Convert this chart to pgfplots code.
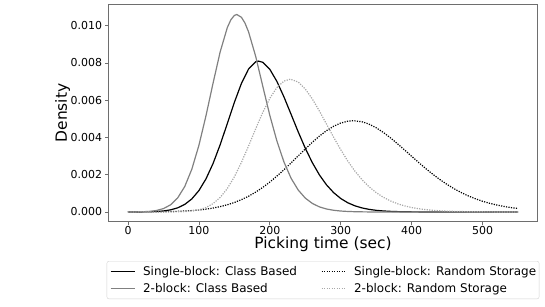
\documentclass[border=0pt]{standalone}
\usepackage{fontspec}
\setmainfont{DejaVu Sans}
\usepackage{pgfplots}
\pgfplotsset{compat=1.18}
\definecolor{gsolid}{RGB}{128,128,128}
\definecolor{gdot}{RGB}{168,168,168}
\definecolor{spine}{RGB}{110,110,110}
\begin{document}
\begin{tikzpicture}
\path[use as bounding box] (-108.5bp,-85.3bp) rectangle (436.5bp,221.7bp);
\begin{axis}[
 scale only axis, width=429bp, height=217.4bp,
 xmin=-27.5, xmax=577.5, ymin=-0.000521, ymax=0.011148,
 xtick={0,100,200,300,400,500}, ytick={0,0.002,0.004,0.006,0.008,0.010},
 scaled y ticks=false,
 yticklabel style={/pgf/number format/.cd, fixed, fixed zerofill, precision=3},
 /pgf/number format/assume math mode=true,
 tick label style={font=\fontsize{11}{13}\selectfont},
 xticklabel style={yshift=1.5bp},
 tick align=outside, tick pos=left, major tick length=3bp,
 every tick/.style={spine, line width=0.8bp},
 axis line style={spine, line width=0.8bp},
 xlabel={Picking time (sec)}, ylabel={Density},
 label style={font=\fontsize{15.5}{18}\selectfont},
 x label style={at={(axis description cs:0.5,-0.102)}, anchor=center},
 y label style={at={(axis description cs:-0.1072,0.5)}, anchor=center},
 legend columns=2,
 legend style={at={(0.5,-0.181)}, anchor=north, font=\fontsize{12}{14}\selectfont, draw=gray!35, rounded corners=2bp, inner xsep=1bp, inner ysep=3bp, row sep=2.5bp, /tikz/every even column/.append style={column sep=20bp}},
 legend cell align=left,
 legend image code/.code={\draw[#1] (0bp,0bp) -- (24bp,0bp); \path (-2bp,0bp) (30bp,0bp);},
]
\addplot[black, line width=1.2bp] coordinates {(0,0.000001) (10,0.000002) (20,0.000005) (30,0.0000114) (40,0.000026) (50,0.0000562) (60,0.000115) (70,0.000222) (80,0.000406) (90,0.000702) (100,0.001149) (110,0.001779) (120,0.002606) (130,0.003614) (140,0.004740) (150,0.005882) (160,0.006906) (170,0.007672) (180,0.008064) (184,0.0081) (190,0.008035) (200,0.007659) (210,0.007008) (220,0.006171) (230,0.005242) (240,0.004304) (250,0.003425) (260,0.002645) (270,0.001987) (280,0.001454) (290,0.001039) (300,0.000725) (310,0.000495) (320,0.000332) (330,0.000218) (340,0.000141) (350,0.0000895) (360,0.000056) (370,0.0000345) (380,0.000021) (390,0.0000126) (400,0.0000075) (420,0.0000025) (450,0.0000005) (550,0)};
\addlegendentry{Single-block: Class Based}
\addplot[black, line width=1.2bp, dash pattern=on 1.2bp off 1.3bp] coordinates {(0,0.0000015) (10,0.0000025) (20,0.000004) (30,0.0000064) (40,0.00001) (50,0.0000155) (60,0.0000237) (70,0.0000355) (80,0.0000524) (90,0.0000761) (100,0.000109) (110,0.000153) (120,0.000212) (130,0.000289) (140,0.000387) (150,0.000511) (160,0.000663) (170,0.000847) (180,0.001066) (190,0.001319) (200,0.001606) (210,0.001925) (220,0.002270) (230,0.002635) (240,0.003010) (250,0.003383) (260,0.003742) (270,0.004074) (280,0.004365) (290,0.004602) (300,0.004774) (310,0.004875) (318,0.0049) (330,0.004843) (340,0.004715) (350,0.004521) (360,0.004274) (370,0.003985) (380,0.003666) (390,0.003331) (400,0.002990) (410,0.002653) (420,0.002328) (430,0.002021) (440,0.001737) (450,0.001478) (460,0.001246) (470,0.001041) (480,0.000862) (490,0.000709) (500,0.000577) (510,0.000467) (520,0.000375) (530,0.000299) (540,0.000237) (550,0.000187)};
\addlegendentry{Single-block: Random Storage}
\addplot[gsolid, line width=1.2bp] coordinates {(0,0.000001) (10,0.000004) (20,0.000012) (30,0.0000325) (40,0.0000798) (50,0.000182) (60,0.000384) (70,0.000752) (80,0.001365) (90,0.002295) (100,0.003578) (110,0.005170) (120,0.006924) (130,0.008596) (140,0.009892) (145,0.010313) (150,0.010551) (153.5,0.0106) (160,0.010450) (165,0.010138) (170,0.009670) (180,0.008364) (190,0.006763) (200,0.005186) (210,0.003809) (220,0.002678) (230,0.001810) (240,0.001181) (250,0.000746) (260,0.000458) (270,0.000274) (280,0.000160) (290,0.0000918) (300,0.0000516) (310,0.0000285) (320,0.0000155) (330,0.0000081) (340,0.000004) (360,0.000001) (400,0) (550,0)};
\addlegendentry{2-block: Class Based}
\addplot[gdot, line width=1.2bp, dash pattern=on 1.2bp off 1.3bp] coordinates {(0,0) (50,0.0000007) (60,0.0000024) (70,0.0000074) (80,0.0000206) (90,0.0000516) (100,0.000117) (110,0.000239) (120,0.000450) (130,0.000781) (140,0.001257) (150,0.001889) (160,0.002664) (170,0.003541) (180,0.004459) (190,0.005339) (200,0.006102) (210,0.006681) (220,0.007029) (229,0.00713) (240,0.006977) (250,0.006605) (260,0.006064) (270,0.005416) (280,0.004715) (290,0.004012) (300,0.003343) (310,0.002732) (320,0.002195) (330,0.001736) (340,0.001353) (350,0.001041) (360,0.000792) (370,0.000596) (380,0.000444) (390,0.000328) (400,0.000241) (410,0.000175) (420,0.000127) (430,0.0000913) (440,0.0000654) (450,0.0000466) (460,0.0000331) (470,0.0000235) (480,0.0000166) (500,0.0000082) (520,0.000004) (550,0.0000014)};
\addlegendentry{2-block: Random Storage}
\end{axis}
\end{tikzpicture}
\end{document}
